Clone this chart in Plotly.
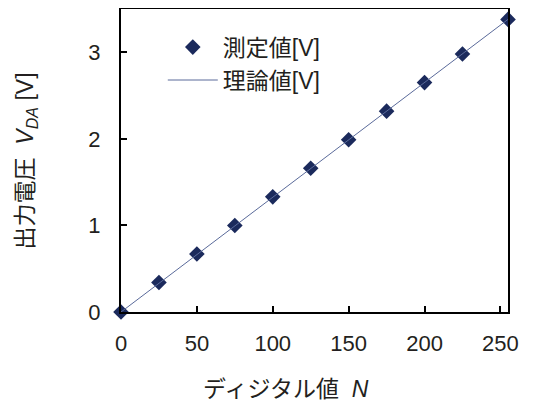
import plotly.graph_objects as go

digital_n = [0, 25, 50, 75, 100, 125, 150, 175, 200, 225, 255]
measured_v = [0.0, 0.34, 0.67, 1.00, 1.33, 1.66, 1.99, 2.32, 2.65, 2.98, 3.38]
theory_n = [0, 255]
theory_v = [0.0, 3.38]
x_ticks = [0, 50, 100, 150, 200, 250]
y_ticks = [0, 1, 2, 3]
x_title = "ディジタル値  <i>N</i>"
y_title = "出力電圧  <i>V</i><sub><i>DA</i></sub> [V]"

font_family = "Liberation Sans, Noto Sans CJK JP, sans-serif"
text_color = "#231f20"

fig = go.Figure()
fig.add_trace(go.Scatter(
    x=digital_n, y=measured_v, mode="markers", name="測定値[V]",
    marker=dict(symbol="diamond", size=12, color="#1b2a5c", line=dict(width=0)),
    cliponaxis=False, legendgroup="a",
))
fig.add_trace(go.Scatter(
    x=theory_n, y=theory_v, mode="lines", name="理論値[V]",
    line=dict(color="#5a6a9a", width=1), legendgroup="b",
))

# page body has an 8px margin, so the figure is sized to fit the window
fig.update_layout(
    width=532, height=396,
    margin=dict(l=113, r=32, t=1, b=92),
    paper_bgcolor="white", plot_bgcolor="white",
    font=dict(family=font_family, size=22, color=text_color),
    showlegend=True,
    legend=dict(x=0.108, y=0.945, xanchor="left", yanchor="top",
                bgcolor="rgba(0,0,0,0)", font=dict(size=23),
                traceorder="grouped", itemwidth=50, tracegroupgap=0),
    annotations=[
        dict(text=x_title, xref="paper", yref="paper", x=0.426, y=-0.254,
             xanchor="center", yanchor="middle", showarrow=False,
             font=dict(size=23)),
        dict(text=y_title, xref="paper", yref="paper", x=-0.243, y=0.5,
             xanchor="center", yanchor="middle", showarrow=False, textangle=-90,
             font=dict(size=23)),
    ],
)
fig.update_xaxes(
    range=[0, 255], tickvals=x_ticks, ticks="inside", ticklen=6, tickwidth=2,
    tickcolor="black", showline=True, linewidth=2, linecolor="black", mirror=True,
    showgrid=False, zeroline=False, tickfont=dict(size=22), automargin=False,
    ticklabelstandoff=11,
)
fig.update_yaxes(
    range=[0, 3.5], tickvals=y_ticks, ticks="inside", ticklen=6, tickwidth=2,
    tickcolor="black", showline=True, linewidth=2, linecolor="black", mirror=True,
    showgrid=False, zeroline=False, tickfont=dict(size=22), automargin=False,
    ticklabelstandoff=14,
)

fig.write_html("out.html")
